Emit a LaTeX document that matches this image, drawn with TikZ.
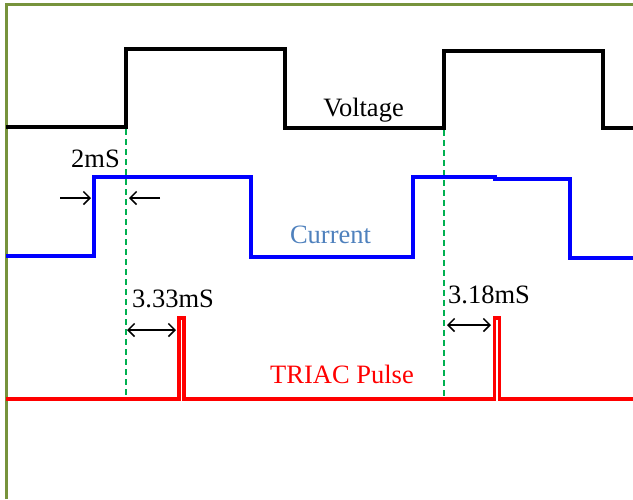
\documentclass[tikz,border=0pt]{standalone}
\usepackage{fontspec}
\setmainfont{Liberation Serif}
\usetikzlibrary{arrows.meta}
\definecolor{olivebd}{HTML}{77933C}
\definecolor{wgreen}{HTML}{00B050}
\definecolor{curlab}{HTML}{4F81BD}
\tikzset{
  wave/.style={line width=3.6pt, line join=miter},
  guide/.style={wgreen, line width=1.7pt, dash pattern=on 6pt off 4pt},
  tipb/.tip={Straight Barb[length=6.5pt,width=13pt,line width=1.5pt]},
  dimarrow/.style={line width=1.5pt, -tipb},
  dimboth/.style={line width=1.5pt, tipb-tipb},
  lab/.style={anchor=base, inner sep=0pt, font=\fontsize{26.5}{31}\selectfont}
}
\begin{document}
\begin{tikzpicture}[x=1pt,y=-1pt]
\useasboundingbox (0,0) rectangle (633,499);
% border
\draw[olivebd, line width=3pt] (6,499) -- (6,4) -- (633,4);
% guides
\coordinate (g1t) at (126,129); \coordinate (g1b) at (126,399);
\coordinate (g2t) at (444,130); \coordinate (g2b) at (444,399);
\draw[guide] (g1t) -- (g1b);
\draw[guide] (g2t) -- (g2b);
% voltage
\draw[wave, black] (6,127) -- (126,127) -- (126,49) -- (285,49) -- (285,128) -- (444,128) -- (444,51) -- (603,51) -- (603,128) -- (633,128);
% current
\draw[wave, blue] (6,256) -- (94,256) -- (94,177) -- (251,177) -- (251,257) -- (413,257) -- (413,177) -- (495,177) -- (495,179) -- (570,179) -- (570,258) -- (633,258);
% triac
\draw[wave, red] (6,399) -- (179,399) -- (179,318) -- (183.8,318) -- (183.8,399) -- (494.5,399) -- (494.5,318) -- (499.3,318) -- (499.3,399) -- (633,399);
% labels
\node[lab] (volt) at (363.5,116) {Voltage};
\node[lab, text=curlab] (curr) at (330.5,243) {Current};
\node[lab, text=red] (triac) at (342,383) {TRIAC Pulse};
\node[lab] (t2) at (95.5,167) {2mS};
\node[lab] (t333) at (173,307) {3.33mS};
\node[lab] (t318) at (489,303) {3.18mS};
% dimension arrows
\coordinate (a1s) at (60,198); \coordinate (a1e) at (91,198);
\coordinate (a2s) at (160,198); \coordinate (a2e) at (129,198);
\draw[dimarrow] (a1s) -- (a1e);
\draw[dimarrow] (a2s) -- (a2e);
\coordinate (b1s) at (127,330); \coordinate (b1e) at (176,330);
\draw[dimboth] (b1s) -- (b1e);
\coordinate (c1s) at (447,325); \coordinate (c1e) at (491,325);
\draw[dimboth] (c1s) -- (c1e);
\end{tikzpicture}
\end{document}
